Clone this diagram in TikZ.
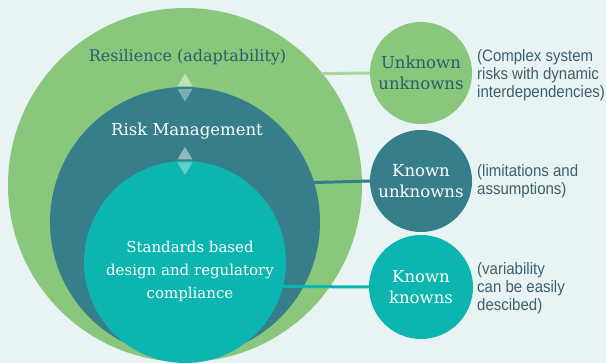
\documentclass[tikz,border=0pt]{standalone}
\usepackage{fontspec}
\setmainfont{DejaVu Serif}
\newfontfamily\notefont[FakeStretch=0.91]{Liberation Sans}

\definecolor{bgcol}{HTML}{E8F3F4}
\definecolor{resgreen}{HTML}{88C77C}
\definecolor{linkgreen}{HTML}{A8D79E}
\definecolor{riskteal}{HTML}{377E8B}
\definecolor{stdturq}{HTML}{0CB5AF}
\definecolor{darktext}{HTML}{2D5C6B}
\definecolor{notegray}{HTML}{3F5F6B}

\begin{document}
\begin{tikzpicture}[x=1pt,y=-1pt,
    ring/.style={circle,inner sep=0pt,outer sep=0pt,minimum size=#1},
    tag/.style={font=\fontsize{#1}{21}\selectfont,align=center},
    note/.style={font=\notefont\fontsize{16.5}{18}\selectfont,align=left,anchor=west,text=notegray,inner sep=0pt},
    link/.style={line width=3pt}]
	\useasboundingbox (0,0) rectangle (606,363);
	\fill[bgcol] (0,0) rectangle (606,363);

            % nested circles
            \node[ring=354pt,fill=resgreen] (resil) at (185,185) {};
            \node[ring=270pt,fill=riskteal] (risk) at (185,222) {};
            \node[ring=202pt,fill=stdturq] (std) at (185,262) {};

            % small circles
            \node[ring=102pt,fill=resgreen] (uu) at (421,73) {};
            \node[ring=102pt,fill=riskteal] (ku) at (421,181) {};
            \node[ring=104pt,fill=stdturq] (kk) at (421,287) {};

            \draw[link,linkgreen] (resil.39.3)--(uu.west);
            \draw[link,riskteal] (risk.17.7)--(ku.west);
            \draw[link,stdturq] (std.-14.3)--(kk.west);

            \foreach \y in {87.5,161}{
              \fill[white,opacity=.45] (177.5,\y-1.5)--(192.5,\y-1.5)--(185,\y-14)--cycle;
              \fill[white,opacity=.35] (177.5,\y+1.5)--(192.5,\y+1.5)--(185,\y+14)--cycle;
            }

            \node[tag=16,text=darktext] (resiltext) at (187.5,57) {Resilience (adaptability)};
            \node[tag=16.5,text=white] (risktext) at (187,131) {Risk Management};
            \node[text=white,align=center,font=\fontsize{15}{23}\selectfont] (stdtext) at (190,271) {Standards based\\design and regulatory\\compliance};

            \node[tag=16.5,text=darktext] (uutext) at (uu) {Unknown\\unknowns};
            \node[tag=16.5,text=white] (kutext) at (ku) {Known\\unknowns};
            \node[tag=16.5,text=white] (kktext) at (kk) {Known\\knowns};

            \node[note] (uunote) at (477,75) {(Complex system\\risks with dynamic\\interdependencies)};
            \node[note] (kunote) at (477,181) {(limitations and\\assumptions)};
            \node[note] (kknote) at (477,288) {(variability\\can be easily\\descibed)};
        \end{tikzpicture}
\end{document}
